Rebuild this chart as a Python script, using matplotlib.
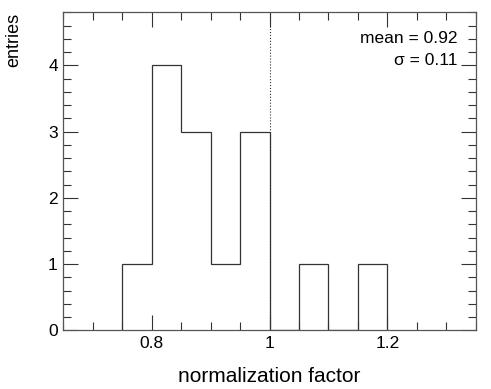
import numpy as np
import matplotlib.pyplot as plt
from matplotlib.ticker import MultipleLocator

# histogram data
bin_edges = [0.75, 0.80, 0.85, 0.90, 0.95, 1.00, 1.05, 1.10, 1.15, 1.20]
counts = [1, 4, 3, 1, 3, 0, 1, 0, 1]
stats_lines = ["mean = 0.92", "\u03c3 = 0.11"]
ref_value = 1.0

plt.rcParams['font.family'] = ['Liberation Sans', 'DejaVu Sans']

fig = plt.figure(figsize=(4.91, 3.89), dpi=100)
ax = fig.add_axes([0.129, 0.151, 0.840, 0.817])

ax.stairs(counts, bin_edges, baseline=0, color='#333333', linewidth=0.9)
ax.axvline(ref_value, color='#333333', linestyle=':', linewidth=0.8)

ax.set_xlim(0.65, 1.35)
ax.set_ylim(0, 4.8)

ax.xaxis.set_minor_locator(MultipleLocator(0.05))
ax.yaxis.set_major_locator(MultipleLocator(1))
ax.yaxis.set_minor_locator(MultipleLocator(0.2))
ax.set_xticks([0.8, 1.0, 1.2])
ax.set_xticklabels(['0.8', '1', '1.2'])

ax.tick_params(which='both', direction='in', top=True, right=True,
               labelsize=12.5, color='#333333', width=0.8)
ax.tick_params(which='major', length=11)
ax.tick_params(axis='x', which='major', pad=4)
ax.tick_params(axis='y', which='major', pad=4)
ax.tick_params(which='minor', length=5.5)
for s in ax.spines.values():
    s.set_color('#555555')
    s.set_linewidth(0.9)

ax.set_xlabel('normalization factor', fontsize=15, va='baseline')
ax.xaxis.set_label_coords(0.5, -0.162)
ax.set_ylabel('entries', fontsize=13, loc='top', va='baseline')
ax.yaxis.set_label_coords(-0.109, 1.0)

ax.text(0.956, 0.904, stats_lines[0], transform=ax.transAxes, ha='right', va='baseline', fontsize=12.5)
ax.text(0.956, 0.834, stats_lines[1], transform=ax.transAxes, ha='right', va='baseline', fontsize=12.5)

fig.savefig('out.png', dpi=100)
